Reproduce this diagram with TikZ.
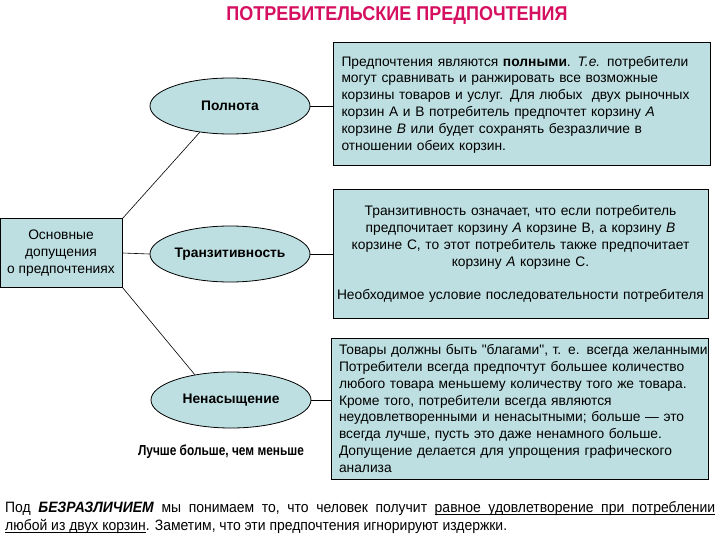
\documentclass[tikz,border=0pt]{standalone}
\usepackage{fontspec}
\setmainfont{Liberation Sans}[Ligatures=TeXOff]
\newfontfamily\narrowfont[FakeStretch=0.82]{Liberation Sans}
\newfontfamily\notefont[FakeStretch=0.93]{Liberation Sans}
\newfontfamily\titlefont[FakeStretch=0.9]{Liberation Sans}
\usetikzlibrary{shapes.geometric}
\definecolor{boxfill}{RGB}{190,223,225}
\definecolor{titlecol}{RGB}{214,16,96}
\newcommand\myuw[1]{\setbox0\hbox{#1}\rlap{\rule[-2.6pt]{\wd0}{0.6pt}}\box0}
\newcommand\mysp{\hskip 3pt plus 1fill\relax}
\newcommand\myusp{\leaders\vrule height -2.0pt depth 2.6pt\hskip 3pt plus 1fill\relax}
\tikzset{
  infobox/.style={draw=black, line width=1pt, fill=boxfill, inner sep=0pt,
    font=\fontsize{13.8}{16.8}\selectfont},
  oval/.style={ellipse, draw=black, line width=0.8pt, fill=boxfill,
    minimum width=160pt, minimum height=56pt, inner sep=0pt,
    font=\bfseries\fontsize{13.8}{15}\selectfont},
  link/.style={draw=black, line width=0.6pt},
  notetext/.style={anchor=base west, inner sep=0pt, font=\notefont\fontsize{15}{18}\selectfont}
}
\begin{document}
\begin{tikzpicture}[x=1pt,y=-1pt]
\useasboundingbox[fill=white] (0,0) rectangle (720,540);

\node[font=\titlefont\bfseries\fontsize{20}{22}\selectfont, text=titlecol] (title) at (397,16) {ПОТРЕБИТЕЛЬСКИЕ ПРЕДПОЧТЕНИЯ};

\node[infobox, minimum width=122pt, minimum height=68pt, align=center, font=\fontsize{13.8}{17}\selectfont] (root) at (61,253)
  {Основные\\допущения\\о предпочтениях};

\node[oval] (full) at (230,106) {Полнота};
\node[oval] (trans) at (230,254) {Транзитивность};
\node[oval] (nons) at (231,400) {Ненасыщение};

\node[font=\narrowfont\bfseries\fontsize{14.5}{16}\selectfont] (better) at (221,452) {Лучше больше, чем меньше};

\node[infobox, minimum width=377pt, minimum height=123pt, text width=361pt, align=left] (b1) at (522,104.5)
  {Предпочтения являются \textbf{полными}. \textit{Т.е.} потребители\\
   могут сравнивать и ранжировать все возможные\\
   корзины товаров и услуг. Для любых \ двух рыночных\\
   корзин А и В потребитель предпочтет корзину \textit{А}\\
   корзине \textit{В} или будет сохранять безразличие в\\
   отношении обеих корзин.};

\node[infobox, minimum width=375pt, minimum height=128pt, text width=372pt, align=center] (b2) at (520.5,254)
  {Транзитивность означает, что если потребитель\\
   предпочитает корзину \textit{А} корзине В, а корзину \textit{В}\\
   корзине С, то этот потребитель также предпочитает\\
   корзину \textit{А} корзине С.\\[16.8pt]
   Необходимое условие последовательности потребителя};

\node[infobox, minimum width=377pt, minimum height=141pt, text width=361pt, align=left] (b3) at (519.5,408.5)
  {\hbox to 361pt{Товары должны быть "благами", т. е. всегда желанными\hss}\\
   Потребители всегда предпочтут большее количество\\
   любого товара меньшему количеству того же товара.\\
   Кроме того, потребители всегда являются\\
   неудовлетворенными и ненасытными; больше — это\\
   всегда лучше, пусть это даже ненамного больше.\\
   Допущение делается для упрощения графического\\
   анализа};

\draw[link] (root.north east) -- (full.221);
\draw[link] (root.east) -- (trans.west);
\draw[link] (root.south east) -- (nons.145);
\draw[link] (full.east) -- (b1.west |- full.east);
\draw[link] (trans.east) -- (b2.west |- trans.east);
\draw[link] (nons.east) -- (b3.west |- nons.east);

\node[notetext] (note1) at (5,512)
  {\hbox to 710pt{Под\mysp\textbf{\textit{БЕЗРАЗЛИЧИЕМ}}\mysp мы\mysp понимаем\mysp то,\mysp что\mysp человек\mysp получит\mysp
   \myuw{равное}\myusp\myuw{удовлетворение}\myusp\myuw{при}\myusp\myuw{потреблении}}};
\node[notetext] (note2) at (5,530)
  {\myuw{любой из двух корзин}. Заметим, что эти предпочтения игнорируют издержки.};
\end{tikzpicture}
\end{document}
